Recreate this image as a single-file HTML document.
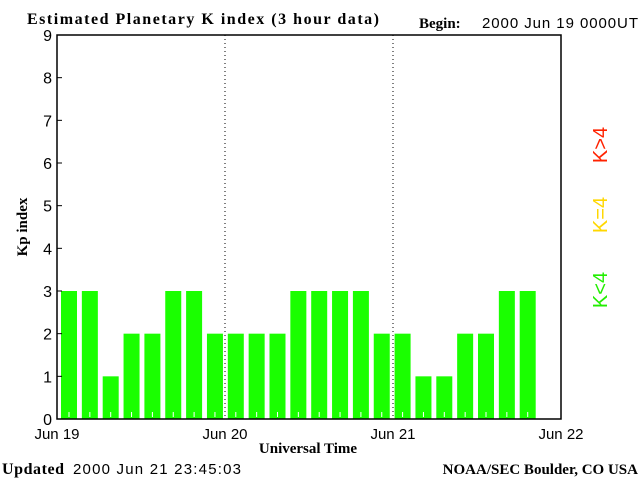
<!DOCTYPE html>
<html><head><meta charset="utf-8"><style>
body{margin:0;background:#fff;}
svg{display:block;}
text{font-family:"Liberation Sans",sans-serif;fill:#000;}
.b{font-family:"Liberation Serif",serif;font-weight:bold;}
</style></head><body>
<svg id="c" width="640" height="480" xmlns="http://www.w3.org/2000/svg">
<text class="b" x="27" y="24" font-size="16" textLength="352">Estimated Planetary K index (3 hour data)</text>
<text class="b" x="419" y="28" font-size="15">Begin:</text>
<text x="482" y="28" font-size="15" textLength="156">2000 Jun 19 0000UT</text>
<g id="bars"></g>
<g id="axes"></g>
<text class="b" x="308" y="453" font-size="15" text-anchor="middle">Universal Time</text>
<text class="b" x="27" y="227" font-size="15" text-anchor="middle" transform="rotate(-90 27 227)">Kp index</text>
<text x="607" y="290" font-size="20" style="fill:#22ee00" text-anchor="middle" transform="rotate(-90 607 290)">K&lt;4</text>
<text x="607" y="215" font-size="20" style="fill:#ffd700" text-anchor="middle" transform="rotate(-90 607 215)">K=4</text>
<text x="607" y="145" font-size="20" style="fill:#ff2200" text-anchor="middle" transform="rotate(-90 607 145)">K&gt;4</text>
<text class="b" x="2" y="474" font-size="16" textLength="62">Updated</text>
<text x="73" y="474" font-size="15" textLength="168">2000 Jun 21 23:45:03</text>
<text class="b" x="638" y="474" font-size="15" text-anchor="end">NOAA/SEC Boulder, CO USA</text>
</svg>
<script>
const kpValues=[3,3,1,2,2,3,3,2, 2,2,2,3,3,3,3,2, 2,1,1,2,2,3,3];
const yTicks=[0,1,2,3,4,5,6,7,8,9];
const dayLabels=["Jun 19","Jun 20","Jun 21","Jun 22"];
const NS="http://www.w3.org/2000/svg";
const L=57,R=561,T=35,B=419,slots=24;
const xs=i=>L+(R-L)*i/slots;
const bx=i=>61+20.85*i;
const ys=v=>B-(B-T)*v/9;
function mk(tag,attrs,parent){const e=document.createElementNS(NS,tag);for(const k in attrs)e.setAttribute(k,attrs[k]);parent.appendChild(e);return e;}
const bars=document.getElementById('bars'),axes=document.getElementById('axes');
kpValues.forEach((v,i)=>{
 const col=v<4?'#1aff00':(v==4?'#ffd700':'#ff2200');
 const r=mk('rect',{x:bx(i),y:ys(v),width:16,height:B-ys(v),fill:col},bars);
 
 
 const t=mk('line',{x1:bx(i)+8,x2:bx(i)+8,y1:B-7,y2:B-2,stroke:'#fff'},bars);
 
 
});
mk('rect',{x:L,y:T,width:R-L,height:B-T,fill:'none',stroke:'#000','stroke-width':1.5},axes);
yTicks.forEach(v=>{
 mk('line',{x1:L,x2:L+5,y1:ys(v),y2:ys(v),stroke:'#000'},axes);
 const tx=mk('text',{x:L-5,y:ys(v)+6,'font-size':16,'text-anchor':'end'},axes);
 tx.textContent=v;
 
 
});
dayLabels.forEach((d,i)=>{
 const x=xs(i*8);
 if(i>0&&i<3)mk('line',{x1:x,x2:x,y1:T,y2:B,stroke:'#000','stroke-dasharray':'1,3'},axes);
 const tx=mk('text',{x:x,y:439,'font-size':15,'text-anchor':'middle'},axes);
 tx.textContent=d;
 
 
});
</script>
</body></html>
